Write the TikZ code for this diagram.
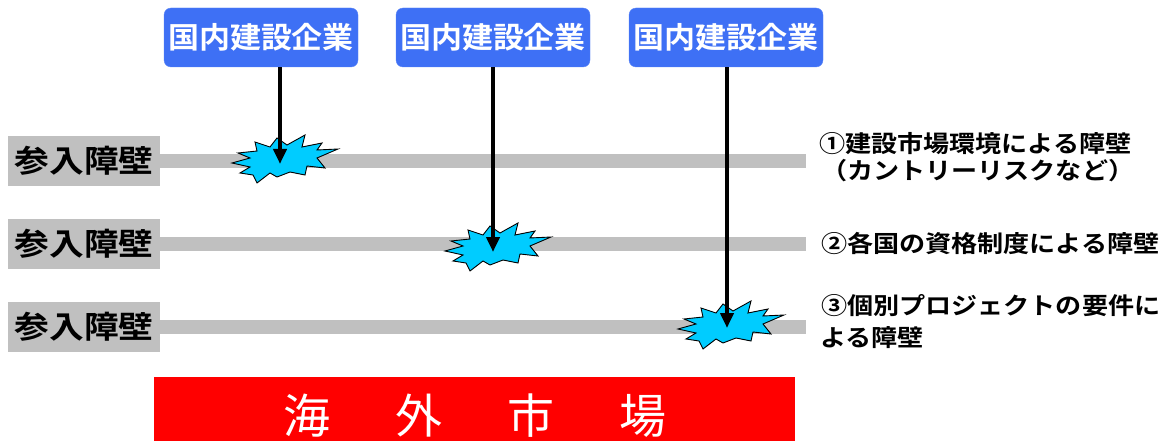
\documentclass[tikz,border=0pt]{standalone}
\usepackage{fontspec}
\usetikzlibrary{arrows.meta}
\setmainfont{Noto Sans CJK JP}
\newfontfamily\fTop{Noto Sans CJK JP}[UprightFont=* Bold,FakeStretch=1.05]
\newfontfamily\fLab{Noto Sans CJK JP}[UprightFont=* Bold,FakeStretch=1.12]
\newfontfamily\fRt{Noto Sans CJK JP}[UprightFont=* Bold,FakeStretch=1.11]
\newfontfamily\fRed{Noto Sans CJK JP}
\definecolor{boxblue}{RGB}{62,112,245}
\definecolor{bargray}{RGB}{192,192,192}
\definecolor{burstcyan}{RGB}{0,204,255}
\newcommand\myburst[2]{%
  \draw[burst, shift={(#1,#2)}] (-53,3) -- (-35,-2) -- (-47,-7) -- (-28,-9) -- (-30,-18) -- (-15,-13) -- (-8,-22) -- (2,-15) -- (20,-25) -- (17,-13) -- (37,-17) -- (32,-10) -- (53,-11) -- (32,-2) -- (40,8) -- (22,6) -- (20,15) -- (5,12) -- (-8,17) -- (-15,13) -- (-28,23) -- (-32,15) -- (-45,13) -- (-35,7) -- cycle;}
\begin{document}
\begin{tikzpicture}[x=1pt,y=-1pt,
  company/.style={fill=boxblue, draw=boxblue!85!white, rounded corners=7pt, minimum width=194pt, minimum height=59pt, inner sep=0pt, text=white, font=\fTop\fontsize{29.5}{30}\selectfont},
  barrier/.style={fill=bargray, minimum width=152pt, minimum height=50pt, inner sep=0pt, font=\fLab\fontsize{31}{31}\selectfont},
  bar/.style={draw=bargray, line width=14pt},
  burst/.style={fill=burstcyan, draw=black, line width=0.9pt, line join=miter},
  arr/.style={line width=4.5pt, -{Triangle[width=13pt,length=15pt]}},
  note/.style={anchor=base west, inner sep=0pt, font=\fRt\fontsize{23.5}{23.5}\selectfont}
]
\useasboundingbox (0,0) rectangle (1175,441);

% bars
\draw[bar] (160,161) -- (806,161);
\draw[bar] (160,244) -- (806,244);
\draw[bar] (160,327) -- (806,327);

% labels
\node[barrier] (l1) at (84,161) {参入障壁};
\node[barrier] (l2) at (84,244) {参入障壁};
\node[barrier] (l3) at (84,327) {参入障壁};

% bursts
\myburst{285}{160}
\myburst{498}{248}
\myburst{731}{326}

% companies
\node[company] (b1) at (261,37.5) {国内建設企業};
\node[company] (b2) at (493,37.5) {国内建設企業};
\node[company] (b3) at (726,37.5) {国内建設企業};

\coordinate (t1) at (280,164);
\coordinate (t2) at (493,252);
\coordinate (t3) at (727,328);
\draw[arr] ([xshift=19pt]b1.south) -- (t1);
\draw[arr] (b2.south) -- (t2);
\draw[arr] ([xshift=1pt]b3.south) -- (t3);

% notes
\node[note] (n1a) at (819,153) {①建設市場環境による障壁};
\node[note] (n1b) at (821,179) {（カントリーリスクなど）};
\node[note] (n2) at (821,252) {②各国の資格制度による障壁};
\node[note] (n3a) at (821,314) {③個別プロジェクトの要件に};
\node[note] (n3b) at (820,346) {よる障壁};

% market
\node[fill=red, minimum width=641pt, minimum height=64pt, inner sep=0pt] (market) at (474.5,409) {};
\node[text=white, font=\fRed\fontsize{47}{47}\selectfont] (mtext) at (475,416) {海\hspace{65pt}外\hspace{65pt}市\hspace{65pt}場};
\end{tikzpicture}
\end{document}
